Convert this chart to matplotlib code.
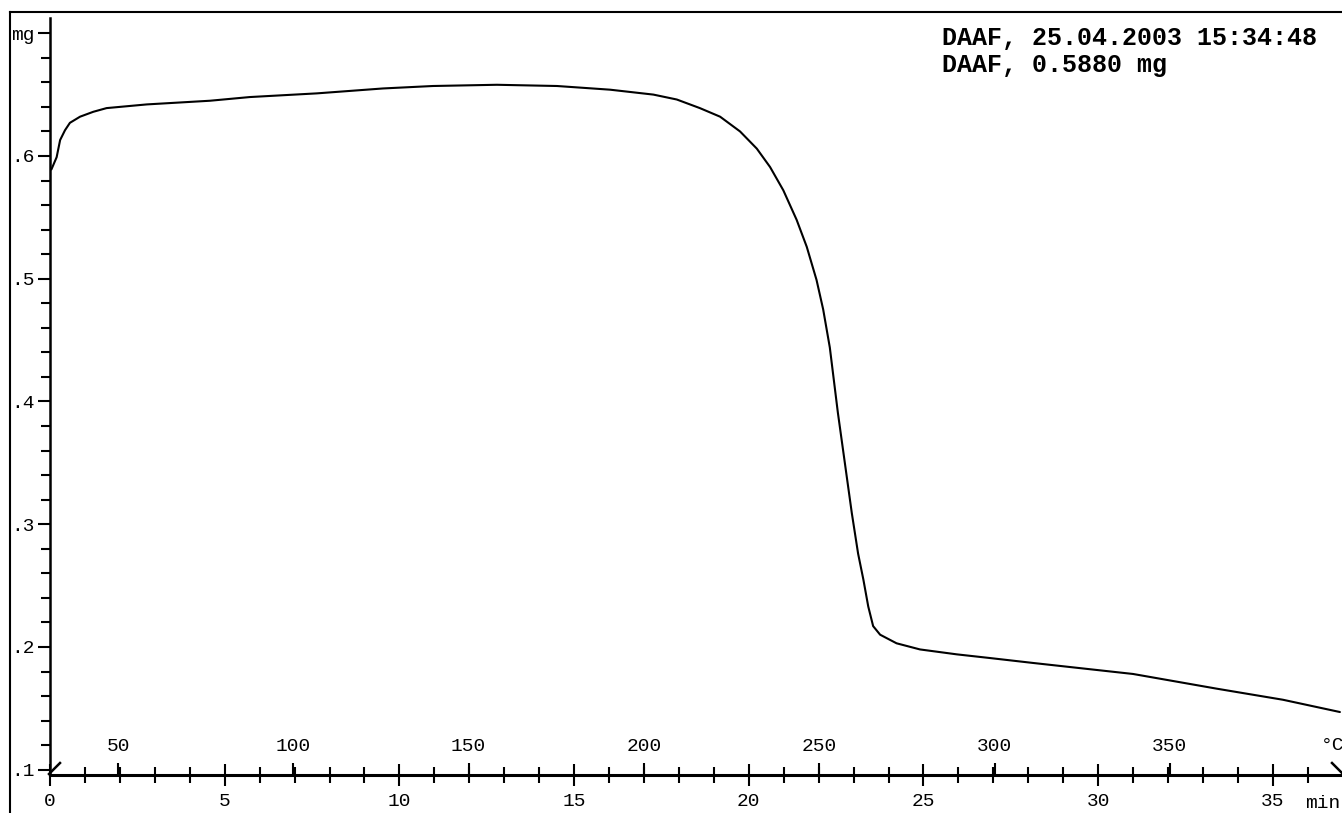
import matplotlib
matplotlib.use("Agg")
import matplotlib.pyplot as plt
from matplotlib.lines import Line2D
from matplotlib.ticker import MultipleLocator, FixedLocator, FixedFormatter

plt.rcParams['font.family'] = ['Liberation Mono', 'DejaVu Sans']

# ---- data ----
time_min = [0.04, 0.19, 0.29, 0.43, 0.57, 0.86, 1.24, 1.62, 2.77, 4.58,
            5.72, 7.64, 9.53, 10.96, 12.79, 14.51, 16.03, 17.27, 17.94, 18.60,
            19.18, 19.75, 20.23, 20.61, 20.99, 21.37, 21.66, 21.94, 22.13, 22.32,
            22.55, 22.75, 22.95, 23.13, 23.28, 23.42, 23.56, 23.76, 24.23, 24.90,
            25.95, 26.90, 28.13, 31.00, 33.40, 35.29, 36.92]
mass_mg = [0.589, 0.599, 0.613, 0.621, 0.627, 0.632, 0.636, 0.639, 0.642, 0.645,
           0.648, 0.651, 0.655, 0.657, 0.658, 0.657, 0.654, 0.650, 0.646, 0.639,
           0.632, 0.620, 0.606, 0.591, 0.572, 0.548, 0.526, 0.499, 0.475, 0.444,
           0.391, 0.350, 0.309, 0.276, 0.255, 0.233, 0.217, 0.210, 0.203, 0.198,
           0.194, 0.191, 0.187, 0.178, 0.166, 0.157, 0.147]

ytick_vals = [0.1, 0.2, 0.3, 0.4, 0.5, 0.6, 0.7]
ytick_labels = ['.1', '.2', '.3', '.4', '.5', '.6', 'mg']
temp_ticks = [50, 100, 150, 200, 250, 300, 350]
T0, RATE = 30.6, 9.965   # temperature program: T = T0 + RATE * t
header1 = "DAAF, 25.04.2003 15:34:48"
header2 = "DAAF, 0.5880 mg"

W, H = 1342, 813
fig = plt.figure(figsize=(W / 100, H / 100), dpi=100)
ax = fig.add_axes([50 / W, (H - 775) / H, 1292 / W, (775 - 18) / H])

ax.plot(time_min, mass_mg, color='black', lw=1.5,
        solid_joinstyle='round', solid_capstyle='round')
ax.set_xlim(0, 36.98)
ax.set_ylim(0.0957, 0.7124)

for s in ['top', 'right']:
    ax.spines[s].set_visible(False)
ax.spines['left'].set_linewidth(1.8)
ax.spines['bottom'].set_linewidth(2.2)

# time axis
ax.xaxis.set_major_locator(MultipleLocator(5))
ax.xaxis.set_minor_locator(MultipleLocator(1))
ax.tick_params(axis='x', which='major', direction='inout', length=16, width=1.5,
               pad=5, labelsize=14)
ax.tick_params(axis='x', which='minor', direction='inout', length=11.5, width=1.5)

# mass axis
ax.yaxis.set_major_locator(FixedLocator(ytick_vals))
ax.yaxis.set_major_formatter(FixedFormatter(ytick_labels))
ax.yaxis.set_minor_locator(MultipleLocator(0.02))
ax.tick_params(axis='y', which='major', direction='out', length=8.6, width=1.5,
               pad=2.5, labelsize=14)
ax.tick_params(axis='y', which='minor', direction='out', length=6.5, width=1.5)

# temperature scale on the same base line, labels above
secax = ax.secondary_xaxis('bottom', functions=(lambda t: T0 + RATE * t,
                                                 lambda T: (T - T0) / RATE))
secax.set_alignment('top')
for s in secax.spines.values():
    s.set_visible(False)
secax.xaxis.set_major_locator(FixedLocator(temp_ticks))
secax.xaxis.set_minor_locator(FixedLocator([]))
secax.tick_params(axis='x', which='major', direction='out', length=8.6, width=1.5,
                  pad=6, labelsize=14, top=True, labeltop=True,
                  bottom=False, labelbottom=False)

# unit labels
fig.text(1321 / W, 1 - 750 / H, "°C", fontsize=14, ha='left', va='baseline')
fig.text(1305 / W, 1 - 808 / H, "min", fontsize=14, ha='left', va='baseline')

# header
fig.text(942 / W, 1 - 45 / H, header1, fontsize=18, fontweight='bold',
         ha='left', va='baseline')
fig.text(942 / W, 1 - 72 / H, header2, fontsize=18, fontweight='bold',
         ha='left', va='baseline')

# frame
fig.add_artist(Line2D([10 / W, 1], [1 - 12 / H] * 2, transform=fig.transFigure,
                      color='black', lw=1.5))
fig.add_artist(Line2D([10 / W] * 2, [0, 1 - 12 / H], transform=fig.transFigure,
                      color='black', lw=1.5))
# start / end markers
fig.add_artist(Line2D([49 / W, 60 / W], [1 - 774 / H, 1 - 763 / H],
                      transform=fig.transFigure, color='black', lw=1.8))
fig.add_artist(Line2D([1332 / W, 1342 / W], [1 - 763 / H, 1 - 773 / H],
                      transform=fig.transFigure, color='black', lw=1.8))

fig.savefig("out.png", dpi=100, facecolor='white')
